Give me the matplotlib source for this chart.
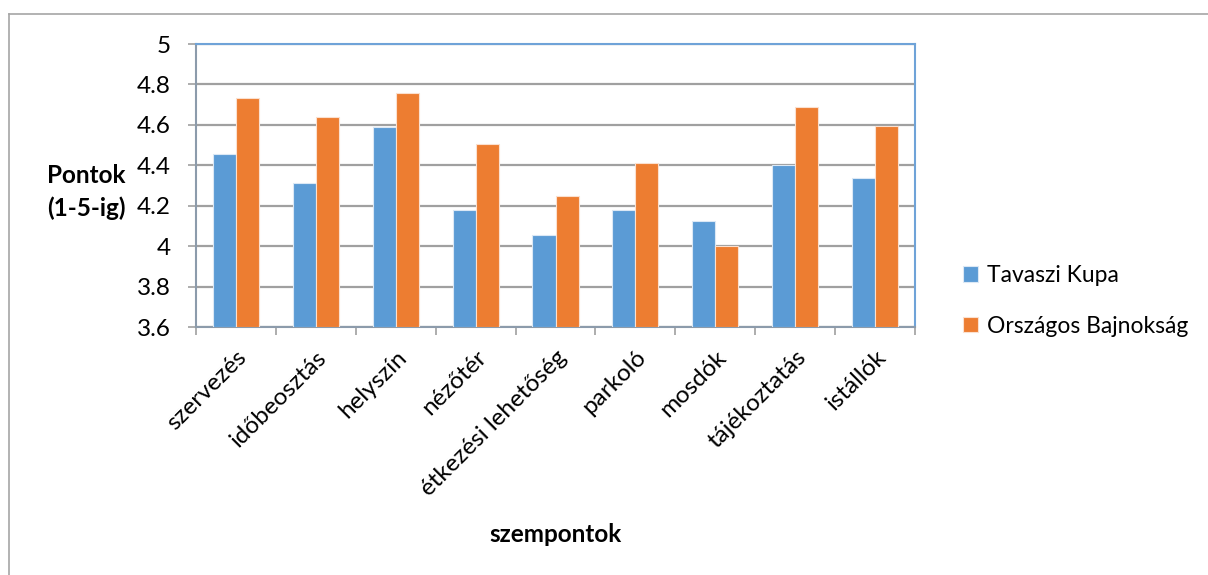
import matplotlib.pyplot as plt
import matplotlib.lines as mlines
import numpy as np

categories = ["szervezés", "időbeosztás", "helyszín", "nézőtér",
              "étkezési lehetőség", "parkoló", "mosdók", "tájékoztatás", "istállók"]
tavaszi_kupa = [4.455, 4.313, 4.591, 4.181, 4.053, 4.179, 4.125, 4.40, 4.336]
orszagos_bajnoksag = [4.732, 4.641, 4.760, 4.505, 4.25, 4.409, 4.0, 4.69, 4.596]
y_ticks = [3.6, 3.8, 4, 4.2, 4.4, 4.6, 4.8, 5]

plt.rcParams['font.family'] = ['Lato', 'DejaVu Sans']

W, H = 1208, 575
fig = plt.figure(figsize=(W / 100, H / 100), dpi=100)

# outer chart frame (only left and top edges show)
fig.add_artist(mlines.Line2D([9 / W, 9 / W], [0, 1 - 14 / H], color='#a6a6a6', lw=1.2))
fig.add_artist(mlines.Line2D([9 / W, 1], [1 - 14 / H, 1 - 14 / H], color='#a6a6a6', lw=1.2))

ax = fig.add_axes([196 / W, 1 - 327 / H, (915 - 196) / W, (327 - 44) / H])

x = np.arange(len(categories))
width = 0.288
ax.bar(x - width / 2, [v - 3.6 for v in tavaszi_kupa], width, bottom=3.6,
       color='#5b9bd5', edgecolor='#dbe8f5', linewidth=0.8, label='Tavaszi Kupa', zorder=3)
ax.bar(x + width / 2, [v - 3.6 for v in orszagos_bajnoksag], width, bottom=3.6,
       color='#ed7d31', edgecolor='#fbe0cf', linewidth=0.8, label='Országos Bajnokság', zorder=3)

ax.set_xlim(-0.5, len(categories) - 0.5)
ax.set_ylim(3.6, 5)
ax.set_yticks(y_ticks)
ax.set_yticklabels([f"{t:g}" for t in y_ticks], fontsize=17.5)
ax.yaxis.grid(True, color='#a0a0a0', lw=1.6, zorder=0)

ax.set_xticks(x)
ax.set_xticklabels(categories, fontsize=17.5, rotation=45, ha='right', va='top',
                   rotation_mode='anchor')
ax.set_xticks(np.arange(len(categories) + 1) - 0.5, minor=True)
ax.tick_params(axis='x', which='major', length=0, pad=14)
ax.tick_params(axis='x', which='minor', length=6, color='#a0a0a0', width=1.2)
ax.tick_params(axis='y', length=6, color='#a0a0a0', width=1.2, pad=12)

for side in ['top', 'right']:
    ax.spines[side].set_color('#6fa3d8')
    ax.spines[side].set_linewidth(1.5)
for side in ['left', 'bottom']:
    ax.spines[side].set_color('#8c9bab')
    ax.spines[side].set_linewidth(1.5)

fig.text(86 / W, 1 - 192 / H, "Pontok\n(1-5-ig)", fontsize=17.5, fontweight='bold',
         ha='center', va='center', linespacing=1.45)
fig.text(555 / W, 1 - 534 / H, "szempontok", fontsize=17.5, fontweight='bold',
         ha='center', va='center')

fig.legend(loc='center left', bbox_to_anchor=(942 / W, 1 - 301 / H), frameon=False,
           fontsize=16.5, handlelength=0.65, handleheight=0.65, handletextpad=0.4,
           labelspacing=1.3)

fig.savefig('out.png', dpi=100)
